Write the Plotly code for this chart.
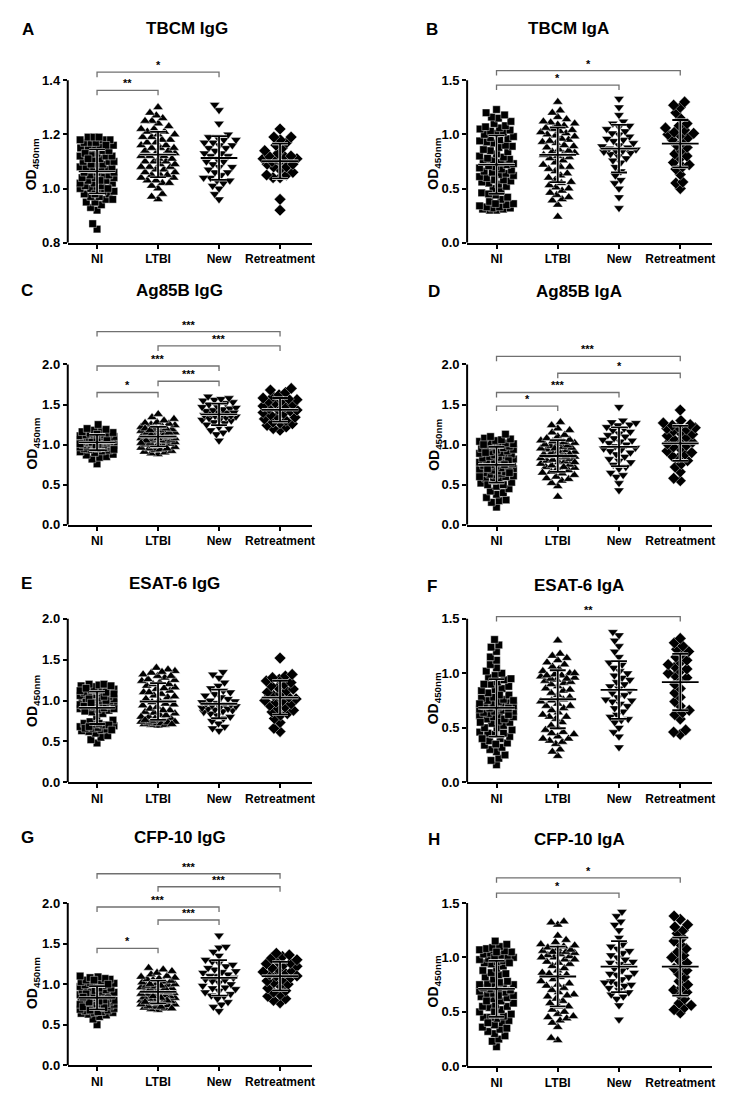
import numpy as np
import plotly.graph_objects as go

CATEGORIES = ["NI", "LTBI", "New", "Retreatment"]

# ---------------- Panel A: TBCM IgG ----------------
A_NI = [0.85, 0.87, 0.92, 0.93, 0.94, 0.95, 0.95, 0.96, 0.97, 0.97, 0.98, 0.98, 0.99, 0.99, 1.00, 1.00, 1.00,
        1.01, 1.01, 1.02, 1.02, 1.02, 1.03, 1.03, 1.04, 1.04, 1.04, 1.05, 1.05, 1.05, 1.06, 1.06, 1.06, 1.07,
        1.07, 1.07, 1.08, 1.08, 1.08, 1.09, 1.09, 1.09, 1.10, 1.10, 1.10, 1.11, 1.11, 1.12, 1.12, 1.12, 1.13,
        1.13, 1.14, 1.14, 1.15, 1.15, 1.15, 1.16, 1.16, 1.17, 1.17, 1.17, 1.18, 1.18, 1.18, 1.19, 1.19, 1.19,
        1.00, 0.98, 1.03, 1.13, 1.16, 1.11, 0.96]
A_LTBI = [0.96, 0.97, 0.98, 1.00, 1.01, 1.02, 1.03, 1.03, 1.04, 1.04, 1.05, 1.05, 1.06, 1.06, 1.07, 1.07, 1.08,
          1.08, 1.09, 1.09, 1.10, 1.10, 1.10, 1.11, 1.11, 1.12, 1.12, 1.13, 1.13, 1.14, 1.14, 1.15, 1.15, 1.16,
          1.16, 1.17, 1.17, 1.18, 1.18, 1.19, 1.19, 1.20, 1.20, 1.21, 1.21, 1.22, 1.22, 1.23, 1.24, 1.25, 1.25,
          1.26, 1.27, 1.28, 1.30, 1.08, 1.12, 1.15, 1.05, 1.02]
A_NEW = [0.96, 0.98, 1.00, 1.01, 1.02, 1.03, 1.03, 1.04, 1.05, 1.06, 1.07, 1.08, 1.08, 1.09, 1.10, 1.10, 1.11,
         1.12, 1.12, 1.13, 1.14, 1.15, 1.15, 1.16, 1.16, 1.17, 1.17, 1.18, 1.18, 1.19, 1.19, 1.20, 1.24, 1.29,
         1.31, 1.06, 1.13, 1.04]
A_RET = [0.92, 0.96, 1.04, 1.04, 1.05, 1.05, 1.06, 1.07, 1.08, 1.09, 1.10, 1.10, 1.10, 1.11, 1.11, 1.11, 1.12,
         1.12, 1.13, 1.14, 1.15, 1.16, 1.17, 1.18, 1.19, 1.19, 1.22, 1.08, 1.09, 1.12]
A_BRACKETS = [(0, 2, 1.43, "*"), (0, 1, 1.363, "**")]

# ---------------- Panel B: TBCM IgA ----------------
B_NI = [0.30, 0.30, 0.31, 0.31, 0.32, 0.32, 0.33, 0.33, 0.34, 0.35, 0.36, 0.38, 0.40, 0.42, 0.44, 0.46, 0.48,
        0.50, 0.52, 0.54, 0.55, 0.56, 0.57, 0.58, 0.60, 0.61, 0.62, 0.63, 0.64, 0.65, 0.66, 0.67, 0.68, 0.69,
        0.70, 0.71, 0.72, 0.73, 0.74, 0.75, 0.76, 0.77, 0.78, 0.79, 0.80, 0.82, 0.84, 0.85, 0.86, 0.88, 0.89,
        0.90, 0.92, 0.93, 0.94, 0.95, 0.96, 0.97, 0.98, 1.00, 1.01, 1.02, 1.03, 1.04, 1.05, 1.06, 1.07, 1.08,
        1.10, 1.12, 1.15, 1.16, 1.18, 1.20, 1.23, 0.36, 0.45, 0.58]
B_LTBI = [0.24, 0.35, 0.39, 0.40, 0.42, 0.44, 0.46, 0.48, 0.50, 0.51, 0.53, 0.55, 0.56, 0.58, 0.60, 0.62, 0.64,
          0.66, 0.68, 0.70, 0.72, 0.74, 0.76, 0.78, 0.79, 0.80, 0.81, 0.82, 0.83, 0.84, 0.85, 0.86, 0.88, 0.89,
          0.90, 0.92, 0.93, 0.94, 0.95, 0.96, 0.98, 0.99, 1.00, 1.01, 1.02, 1.03, 1.04, 1.05, 1.06, 1.08, 1.09,
          1.10, 1.11, 1.12, 1.14, 1.16, 1.20, 1.22, 1.30, 0.70]
B_NEW = [0.32, 0.42, 0.50, 0.55, 0.58, 0.62, 0.66, 0.70, 0.74, 0.76, 0.78, 0.80, 0.82, 0.83, 0.84, 0.85, 0.86,
         0.87, 0.88, 0.89, 0.90, 0.92, 0.94, 0.96, 0.98, 1.00, 1.01, 1.03, 1.05, 1.07, 1.08, 1.10, 1.12, 1.18,
         1.25, 1.33, 0.85, 0.95]
B_RET = [0.50, 0.55, 0.56, 0.63, 0.68, 0.70, 0.72, 0.74, 0.78, 0.80, 0.82, 0.85, 0.88, 0.90, 0.93, 0.95, 0.97,
         0.99, 1.00, 1.01, 1.02, 1.04, 1.06, 1.08, 1.10, 1.15, 1.20, 1.25, 1.27, 1.30]
B_BRACKETS = [(0, 3, 1.59, "*"), (0, 2, 1.455, "*")]

# ---------------- Panel C: Ag85B IgG ----------------
C_NI = [0.76, 0.82, 0.84, 0.85, 0.87, 0.88, 0.90, 0.91, 0.92, 0.93, 0.94, 0.95, 0.95, 0.96, 0.96, 0.97, 0.97,
        0.98, 0.98, 0.99, 0.99, 1.00, 1.00, 1.00, 1.01, 1.01, 1.02, 1.02, 1.02, 1.03, 1.03, 1.03, 1.04, 1.04,
        1.04, 1.05, 1.05, 1.05, 1.06, 1.06, 1.06, 1.07, 1.07, 1.08, 1.08, 1.09, 1.09, 1.10, 1.10, 1.11, 1.11,
        1.12, 1.12, 1.13, 1.14, 1.15, 1.16, 1.17, 1.18, 1.19, 1.20, 1.25, 1.00, 1.03, 1.05, 0.94, 1.08, 1.13,
        0.98, 1.01]
C_LTBI = [0.88, 0.89, 0.90, 0.91, 0.92, 0.93, 0.94, 0.95, 0.96, 0.97, 0.98, 0.99, 1.00, 1.01, 1.02, 1.03, 1.04,
          1.05, 1.05, 1.06, 1.07, 1.08, 1.08, 1.09, 1.10, 1.10, 1.11, 1.12, 1.12, 1.13, 1.14, 1.15, 1.15, 1.16,
          1.17, 1.18, 1.19, 1.20, 1.21, 1.22, 1.23, 1.24, 1.25, 1.26, 1.27, 1.28, 1.30, 1.32, 1.34, 1.38, 1.00,
          1.05, 1.10, 1.15, 1.20, 0.95, 1.02, 1.12, 1.18, 1.08]
C_NEW = [1.05, 1.13, 1.15, 1.18, 1.20, 1.22, 1.25, 1.27, 1.28, 1.30, 1.31, 1.32, 1.33, 1.34, 1.35, 1.36, 1.37,
         1.38, 1.39, 1.40, 1.41, 1.42, 1.43, 1.44, 1.45, 1.46, 1.47, 1.48, 1.50, 1.52, 1.53, 1.55, 1.56, 1.57,
         1.58, 1.60, 1.40, 1.36]
C_RET = [1.18, 1.20, 1.22, 1.24, 1.26, 1.27, 1.28, 1.30, 1.32, 1.34, 1.35, 1.37, 1.39, 1.40, 1.42, 1.43, 1.44,
         1.45, 1.47, 1.48, 1.50, 1.52, 1.54, 1.55, 1.56, 1.57, 1.58, 1.60, 1.62, 1.65, 1.68, 1.70]
C_BRACKETS = [(0, 3, 2.41, "***"), (1, 3, 2.23, "***"), (0, 2, 1.98, "***"), (1, 2, 1.79, "***"),
              (0, 1, 1.65, "*")]

# ---------------- Panel D: Ag85B IgA ----------------
D_NI = [0.22, 0.28, 0.30, 0.31, 0.34, 0.38, 0.40, 0.42, 0.45, 0.48, 0.50, 0.52, 0.53, 0.55, 0.56, 0.58, 0.60,
        0.61, 0.62, 0.63, 0.64, 0.65, 0.66, 0.67, 0.68, 0.69, 0.70, 0.71, 0.72, 0.73, 0.74, 0.75, 0.76, 0.77,
        0.78, 0.79, 0.80, 0.81, 0.82, 0.83, 0.84, 0.85, 0.86, 0.87, 0.88, 0.89, 0.90, 0.91, 0.92, 0.93, 0.94,
        0.95, 0.96, 0.97, 0.98, 0.99, 1.00, 1.01, 1.02, 1.03, 1.04, 1.05, 1.06, 1.07, 1.08, 1.10, 1.13, 0.50,
        0.60, 0.70, 0.80, 0.90, 1.00, 0.65, 0.75]
D_LTBI = [0.35, 0.48, 0.52, 0.55, 0.57, 0.58, 0.60, 0.62, 0.64, 0.66, 0.68, 0.70, 0.71, 0.72, 0.74, 0.75, 0.76,
          0.78, 0.79, 0.80, 0.81, 0.82, 0.83, 0.84, 0.85, 0.86, 0.87, 0.88, 0.89, 0.90, 0.91, 0.92, 0.93, 0.94,
          0.95, 0.96, 0.97, 0.98, 0.99, 1.00, 1.01, 1.02, 1.03, 1.04, 1.05, 1.06, 1.08, 1.10, 1.12, 1.15, 1.18,
          1.20, 1.24, 1.28, 0.65, 0.78, 0.88, 0.95, 0.72, 0.85]
D_NEW = [0.43, 0.52, 0.60, 0.62, 0.65, 0.70, 0.72, 0.75, 0.78, 0.80, 0.82, 0.85, 0.88, 0.90, 0.92, 0.94, 0.96,
         0.98, 1.00, 1.02, 1.04, 1.06, 1.08, 1.10, 1.12, 1.14, 1.16, 1.18, 1.20, 1.22, 1.24, 1.25, 1.27, 1.28,
         1.30, 1.47, 0.95, 1.05]
D_RET = [0.55, 0.58, 0.66, 0.72, 0.76, 0.80, 0.84, 0.86, 0.88, 0.90, 0.92, 0.95, 0.97, 0.99, 1.01, 1.03, 1.05,
         1.07, 1.09, 1.11, 1.13, 1.15, 1.17, 1.19, 1.20, 1.21, 1.22, 1.24, 1.25, 1.27, 1.30, 1.43]
D_BRACKETS = [(0, 3, 2.10, "***"), (1, 3, 1.89, "*"), (0, 2, 1.65, "***"), (0, 1, 1.48, "*")]

# ---------------- Panel E: ESAT-6 IgG ----------------
E_NI = [0.48, 0.52, 0.55, 0.57, 0.60, 0.62, 0.63, 0.64, 0.65, 0.66, 0.67, 0.68, 0.69, 0.70, 0.71, 0.72, 0.74,
        0.76, 0.80, 0.84, 0.86, 0.88, 0.89, 0.90, 0.91, 0.92, 0.93, 0.94, 0.95, 0.96, 0.97, 0.98, 0.99, 1.00,
        1.00, 1.01, 1.02, 1.03, 1.04, 1.05, 1.06, 1.07, 1.08, 1.09, 1.10, 1.11, 1.12, 1.13, 1.14, 1.15, 1.16,
        1.17, 1.18, 1.19, 1.20, 1.20, 0.66, 0.68, 0.70, 0.95, 1.00, 1.05, 1.10, 0.98, 1.02, 0.93, 0.97, 1.08,
        1.12, 0.87, 0.64, 0.72, 1.15, 1.18, 0.90]
E_LTBI = [0.69, 0.70, 0.71, 0.72, 0.73, 0.74, 0.75, 0.76, 0.78, 0.80, 0.82, 0.84, 0.85, 0.86, 0.88, 0.90, 0.92,
          0.94, 0.96, 0.98, 1.00, 1.02, 1.04, 1.06, 1.08, 1.10, 1.12, 1.14, 1.16, 1.18, 1.20, 1.22, 1.24, 1.26,
          1.28, 1.30, 1.32, 1.34, 1.36, 1.38, 1.40, 0.72, 0.75, 0.78, 0.70, 0.80, 1.25, 1.30, 1.35, 0.73, 0.76,
          0.82, 0.88, 1.15, 1.20, 0.74, 0.71, 0.95, 1.05, 1.10]
E_NEW = [0.63, 0.66, 0.68, 0.72, 0.75, 0.78, 0.80, 0.82, 0.84, 0.86, 0.87, 0.88, 0.89, 0.90, 0.91, 0.92, 0.93,
         0.94, 0.95, 0.96, 0.97, 0.98, 0.99, 1.00, 1.02, 1.04, 1.06, 1.08, 1.10, 1.12, 1.15, 1.18, 1.22, 1.28,
         1.32, 1.35, 0.90, 0.95]
E_RET = [0.62, 0.66, 0.73, 0.78, 0.82, 0.84, 0.86, 0.88, 0.90, 0.92, 0.94, 0.96, 0.98, 1.00, 1.02, 1.04, 1.06,
         1.08, 1.10, 1.12, 1.14, 1.16, 1.18, 1.20, 1.22, 1.24, 1.26, 1.28, 1.30, 1.32, 1.52, 1.00]
E_BRACKETS = []

# ---------------- Panel F: ESAT-6 IgA ----------------
F_NI = [0.16, 0.20, 0.22, 0.25, 0.28, 0.30, 0.32, 0.34, 0.36, 0.38, 0.40, 0.42, 0.44, 0.45, 0.46, 0.48, 0.50,
        0.52, 0.54, 0.55, 0.56, 0.58, 0.60, 0.61, 0.62, 0.63, 0.64, 0.65, 0.66, 0.67, 0.68, 0.69, 0.70, 0.71,
        0.72, 0.73, 0.74, 0.75, 0.76, 0.77, 0.78, 0.80, 0.82, 0.84, 0.85, 0.86, 0.88, 0.90, 0.92, 0.94, 0.96,
        0.98, 1.00, 1.02, 1.05, 1.08, 1.12, 1.15, 1.20, 1.24, 1.26, 1.31, 0.45, 0.50, 0.60, 0.65, 0.70, 0.75,
        0.80, 0.55, 0.40, 0.35, 0.90, 0.95, 0.58, 0.62, 0.68, 0.72]
F_LTBI = [0.24, 0.28, 0.30, 0.35, 0.37, 0.38, 0.40, 0.42, 0.44, 0.46, 0.48, 0.50, 0.52, 0.55, 0.58, 0.60, 0.62,
          0.64, 0.66, 0.68, 0.70, 0.72, 0.74, 0.76, 0.78, 0.80, 0.82, 0.84, 0.86, 0.88, 0.90, 0.91, 0.92, 0.93,
          0.94, 0.95, 0.96, 0.97, 0.98, 0.99, 1.00, 1.02, 1.04, 1.06, 1.08, 1.10, 1.12, 1.14, 1.16, 1.18, 1.30,
          0.40, 0.45, 0.60, 0.70, 0.85, 0.95, 0.98, 1.00, 0.75]
F_NEW = [0.32, 0.42, 0.46, 0.50, 0.55, 0.57, 0.58, 0.60, 0.62, 0.65, 0.68, 0.70, 0.72, 0.74, 0.76, 0.78, 0.80,
         0.82, 0.84, 0.86, 0.88, 0.90, 0.92, 0.94, 0.96, 0.98, 1.00, 1.02, 1.05, 1.08, 1.10, 1.15, 1.20, 1.25,
         1.30, 1.35, 1.38, 0.75]
F_RET = [0.44, 0.46, 0.48, 0.58, 0.62, 0.64, 0.66, 0.70, 0.74, 0.78, 0.82, 0.86, 0.90, 0.94, 0.96, 0.98, 1.00,
         1.02, 1.04, 1.06, 1.08, 1.10, 1.12, 1.15, 1.18, 1.20, 1.22, 1.25, 1.28, 1.32]
F_BRACKETS = [(0, 3, 1.52, "**")]

# ---------------- Panel G: CFP-10 IgG ----------------
G_NI = [0.50, 0.57, 0.60, 0.62, 0.63, 0.64, 0.65, 0.66, 0.67, 0.68, 0.69, 0.70, 0.71, 0.72, 0.73, 0.74, 0.75,
        0.76, 0.77, 0.78, 0.79, 0.80, 0.81, 0.82, 0.83, 0.84, 0.85, 0.86, 0.87, 0.88, 0.89, 0.90, 0.91, 0.92,
        0.93, 0.94, 0.95, 0.96, 0.97, 0.98, 0.99, 1.00, 1.01, 1.02, 1.03, 1.04, 1.05, 1.06, 1.07, 1.08, 1.09,
        1.10, 0.70, 0.75, 0.80, 0.85, 0.90, 0.72, 0.78, 0.82, 0.88, 0.65, 0.68, 0.74, 0.76, 0.80, 0.84, 0.86,
        0.92, 0.95, 1.00, 1.05, 0.66, 0.71, 0.79]
G_LTBI = [0.68, 0.69, 0.70, 0.71, 0.72, 0.73, 0.74, 0.75, 0.76, 0.77, 0.78, 0.79, 0.80, 0.81, 0.82, 0.83, 0.84,
          0.85, 0.86, 0.87, 0.88, 0.89, 0.90, 0.91, 0.92, 0.93, 0.94, 0.95, 0.96, 0.97, 0.98, 0.99, 1.00, 1.01,
          1.02, 1.03, 1.04, 1.05, 1.06, 1.07, 1.08, 1.09, 1.10, 1.12, 1.14, 1.16, 1.18, 1.20, 0.72, 0.75, 0.80,
          0.85, 0.88, 0.90, 0.95, 0.70, 0.78, 0.83, 0.98, 1.00]
G_NEW = [0.67, 0.72, 0.75, 0.78, 0.82, 0.86, 0.88, 0.90, 0.92, 0.94, 0.96, 0.98, 1.00, 1.02, 1.04, 1.06, 1.08,
         1.10, 1.12, 1.14, 1.16, 1.18, 1.20, 1.22, 1.24, 1.26, 1.28, 1.30, 1.35, 1.40, 1.45, 1.46, 1.60, 1.05,
         1.10, 0.95, 1.15, 0.85]
G_RET = [0.77, 0.80, 0.82, 0.85, 0.87, 0.90, 0.92, 0.95, 0.98, 1.00, 1.02, 1.04, 1.06, 1.08, 1.10, 1.12, 1.14,
         1.16, 1.18, 1.20, 1.22, 1.24, 1.25, 1.26, 1.28, 1.30, 1.32, 1.34, 1.36, 1.38, 1.10, 1.15]
G_BRACKETS = [(0, 3, 2.36, "***"), (1, 3, 2.20, "***"), (0, 2, 1.95, "***"), (1, 2, 1.79, "***"),
              (0, 1, 1.44, "*")]

# ---------------- Panel H: CFP-10 IgA ----------------
H_NI = [0.18, 0.23, 0.25, 0.28, 0.30, 0.32, 0.34, 0.36, 0.38, 0.40, 0.42, 0.44, 0.45, 0.46, 0.48, 0.50, 0.52,
        0.54, 0.55, 0.56, 0.58, 0.60, 0.62, 0.63, 0.64, 0.65, 0.66, 0.67, 0.68, 0.69, 0.70, 0.71, 0.72, 0.73,
        0.74, 0.75, 0.76, 0.77, 0.78, 0.80, 0.82, 0.84, 0.86, 0.88, 0.90, 0.92, 0.94, 0.95, 0.96, 0.97, 0.98,
        0.99, 1.00, 1.01, 1.02, 1.03, 1.04, 1.05, 1.06, 1.07, 1.08, 1.09, 1.10, 1.12, 1.15, 0.45, 0.55, 0.60,
        0.70, 0.85, 0.95, 1.00, 1.05, 0.35, 0.40, 0.50, 0.65, 0.75]
H_LTBI = [0.24, 0.26, 0.36, 0.40, 0.42, 0.44, 0.46, 0.48, 0.50, 0.52, 0.55, 0.58, 0.60, 0.62, 0.64, 0.66, 0.68,
          0.70, 0.72, 0.74, 0.76, 0.78, 0.80, 0.82, 0.84, 0.86, 0.88, 0.90, 0.92, 0.94, 0.96, 0.98, 1.00, 1.01,
          1.02, 1.03, 1.04, 1.05, 1.06, 1.07, 1.08, 1.09, 1.10, 1.11, 1.12, 1.14, 1.16, 1.20, 1.30, 1.32, 1.33,
          0.98, 1.00, 1.05, 0.45, 0.55, 0.65, 0.75, 0.85, 0.95]
H_NEW = [0.43, 0.56, 0.62, 0.64, 0.66, 0.68, 0.70, 0.72, 0.74, 0.75, 0.76, 0.78, 0.80, 0.82, 0.84, 0.86, 0.88,
         0.90, 0.92, 0.94, 0.96, 0.98, 1.00, 1.02, 1.04, 1.06, 1.08, 1.10, 1.12, 1.18, 1.25, 1.30, 1.33, 1.38,
         1.42, 0.77, 0.85, 0.95]
H_RET = [0.49, 0.52, 0.54, 0.56, 0.58, 0.62, 0.66, 0.68, 0.70, 0.72, 0.75, 0.78, 0.82, 0.85, 0.88, 0.90, 0.92,
         0.95, 0.98, 1.00, 1.02, 1.05, 1.08, 1.12, 1.15, 1.18, 1.22, 1.25, 1.28, 1.30, 1.35, 1.38]
H_BRACKETS = [(0, 3, 1.73, "*"), (0, 2, 1.59, "*")]

TITLES = ["TBCM IgG", "TBCM IgA", "Ag85B IgG", "Ag85B IgA", "ESAT-6 IgG", "ESAT-6 IgA", "CFP-10 IgG", "CFP-10 IgA"]
LETTERS = ["A", "B", "C", "D", "E", "F", "G", "H"]
GROUPS = [
    [A_NI, A_LTBI, A_NEW, A_RET], [B_NI, B_LTBI, B_NEW, B_RET],
    [C_NI, C_LTBI, C_NEW, C_RET], [D_NI, D_LTBI, D_NEW, D_RET],
    [E_NI, E_LTBI, E_NEW, E_RET], [F_NI, F_LTBI, F_NEW, F_RET],
    [G_NI, G_LTBI, G_NEW, G_RET], [H_NI, H_LTBI, H_NEW, H_RET],
]
BRACKETS = [A_BRACKETS, B_BRACKETS, C_BRACKETS, D_BRACKETS, E_BRACKETS, F_BRACKETS, G_BRACKETS, H_BRACKETS]
Y_TICKS = [[0.8, 1.0, 1.2, 1.4], [0.0, 0.5, 1.0, 1.5], [0.0, 0.5, 1.0, 1.5, 2.0], [0.0, 0.5, 1.0, 1.5, 2.0],
           [0.0, 0.5, 1.0, 1.5, 2.0], [0.0, 0.5, 1.0, 1.5], [0.0, 0.5, 1.0, 1.5, 2.0], [0.0, 0.5, 1.0, 1.5]]

# ---------------- layout geometry (pixels) ----------------
W, H = 732, 1097
X_RANGE = [-0.48, 3.52]
LEFT_PX = [(60, 305), (461, 707)]
BOTTOM_PX = [234, 234, 519, 519, 779, 779, 1065, 1066]
TOPTICK_PX = [70, 70, 357, 357, 614, 614, 901, 901]
RANGE_TOP = [1.50, 1.75, 2.62, 2.30, 2.05, 1.64, 2.52, 1.86]
TITLE_POS = [(180, 18), (563, 18), (172, 282), (573, 283), (167, 578), (573, 580), (173, 835), (574, 837)]
LETTER_POS = [(20, 19), (426, 19), (19, 282), (428, 283), (19, 578), (426, 581), (20, 835), (428, 837)]
YLAB_POS = [(25, 155), (428, 154), (25, 437), (428, 438), (25, 697), (428, 694), (25, 982), (428, 980)]
SYMBOLS = ["square", "triangle-up", "triangle-down", "diamond"]
SIZES = [7.5, 9, 9, 9]
FONT = "Arial, Liberation Sans, sans-serif"


def swarm(vals, ppu_y, d=7.0, maxw=17.0):
    """Deterministic beeswarm offsets (pixels) computed from the values."""
    vals = np.asarray(vals, dtype=float)
    order = np.argsort(vals, kind="stable")
    placed = []
    xs = np.zeros(len(vals))
    grid = np.linspace(-maxw, maxw, 35)
    for i in order:
        y = vals[i] * ppu_y
        near = [(px, py) for px, py in placed if abs(py - y) < d]
        cands = [0.0]
        for px, py in near:
            dx = np.sqrt(max(d * d - (py - y) ** 2, 0.0))
            cands += [px + dx + 1e-6, px - dx - 1e-6]
        cands = [c for c in cands if abs(c) <= maxw]
        cands.sort(key=lambda c: (abs(c), c))
        chosen = None
        for c in cands:
            if all((c - px) ** 2 + (y - py) ** 2 >= d * d - 1e-3 for px, py in near):
                chosen = c
                break
        if chosen is None:
            best, bestd = 0.0, -1.0
            for c in sorted(grid, key=abs):
                md = min((c - px) ** 2 + (y - py) ** 2 for px, py in near)
                if md > bestd + 1e-6:
                    best, bestd = c, md
            chosen = best
        xs[i] = chosen
        placed.append((chosen, y))
    return xs


fig = go.Figure()
layout = dict(width=W, height=H, margin=dict(l=0, r=0, t=0, b=0), plot_bgcolor="white",
              paper_bgcolor="white", showlegend=False, font=dict(family=FONT, color="black"))
shapes = []
annotations = []

for k in range(8):
    col = k % 2
    n = "" if k == 0 else str(k + 1)
    xa, ya = "x" + n, "y" + n
    lpx, rpx = LEFT_PX[col]
    ticks = Y_TICKS[k]
    y0, y1 = ticks[0], ticks[-1]
    pb, pt = BOTTOM_PX[k], TOPTICK_PX[k]
    ppu = (pb - pt) / (y1 - y0)
    top_px = pb - (RANGE_TOP[k] - y0) * ppu
    xppu = (rpx - lpx) / (X_RANGE[1] - X_RANGE[0])

    layout["xaxis" + n] = dict(domain=[lpx / W, rpx / W], range=X_RANGE, anchor=ya,
                               tickvals=[0, 1, 2, 3], ticktext=CATEGORIES, showline=True,
                               linecolor="black", linewidth=2, ticks="outside", ticklen=4, tickwidth=2,
                               tickcolor="black", showgrid=False, zeroline=False,
                               tickfont=dict(size=12, family=FONT, color="black", weight="bold"))
    layout["yaxis" + n] = dict(domain=[1 - pb / H, 1 - top_px / H], range=[y0, RANGE_TOP[k]], anchor=xa,
                               tickvals=ticks, ticktext=["%.1f" % t for t in ticks], showline=False,
                               ticks="outside", ticklen=4, tickwidth=2, tickcolor="black", showgrid=False,
                               zeroline=False,
                               tickfont=dict(size=13, family=FONT, color="black", weight="bold"))
    shapes.append(dict(type="line", xref=xa + " domain", yref=ya, x0=0, x1=0, y0=y0, y1=y1,
                       line=dict(color="black", width=2), layer="above"))

    for g, vals in enumerate(GROUPS[k]):
        offs = swarm(vals, ppu) / xppu
        fig.add_trace(go.Scatter(x=g + offs, y=vals, mode="markers", xaxis=xa, yaxis=ya,
                                 marker=dict(symbol=SYMBOLS[g], size=SIZES[g], color="black",
                                             line=dict(color="white", width=0.4)),
                                 cliponaxis=False, hoverinfo="y"))
        m = float(np.mean(vals))
        s = float(np.std(vals, ddof=1))
        lx = [g - 0.30, g + 0.30, None, g, g, None, g - 0.13, g + 0.13, None, g - 0.13, g + 0.13]
        ly = [m, m, None, m - s, m + s, None, m - s, m - s, None, m + s, m + s]
        fig.add_trace(go.Scatter(x=lx, y=ly, mode="lines", xaxis=xa, yaxis=ya,
                                 line=dict(color="white", width=3.0), hoverinfo="skip"))
        fig.add_trace(go.Scatter(x=lx, y=ly, mode="lines", xaxis=xa, yaxis=ya,
                                 line=dict(color="black", width=1.8), hoverinfo="skip"))

    drop = 5 / ppu
    for (a, b, yv, star) in BRACKETS[k]:
        fig.add_trace(go.Scatter(x=[a, a, b, b], y=[yv - drop, yv, yv, yv - drop], mode="lines",
                                 xaxis=xa, yaxis=ya, line=dict(color="#707070", width=1.3),
                                 hoverinfo="skip"))
        annotations.append(dict(x=(a + b) / 2, y=yv, xref=xa, yref=ya, text=star, showarrow=False,
                                yanchor="bottom", yshift=-1,
                                font=dict(size=11, family=FONT, color="black", weight="bold")))

    tx, ty = TITLE_POS[k]
    annotations.append(dict(x=tx / W, y=1 - ty / H, xref="paper", yref="paper", text=TITLES[k],
                            showarrow=False, xanchor="center", yanchor="middle",
                            font=dict(size=17, family=FONT, color="black", weight="bold")))
    lx_, ly_ = LETTER_POS[k]
    annotations.append(dict(x=lx_ / W, y=1 - ly_ / H, xref="paper", yref="paper", text=LETTERS[k],
                            showarrow=False, xanchor="center", yanchor="middle",
                            font=dict(size=17, family=FONT, color="black", weight="bold")))
    ax_, ay_ = YLAB_POS[k]
    annotations.append(dict(x=ax_ / W, y=1 - ay_ / H, xref="paper", yref="paper",
                            text="OD<sub>450nm</sub>", textangle=-90, showarrow=False,
                            xanchor="center", yanchor="middle",
                            font=dict(size=14, family=FONT, color="black", weight="bold")))

layout["shapes"] = shapes
layout["annotations"] = annotations
fig.update_layout(**layout)
fig.write_html("out.html")
